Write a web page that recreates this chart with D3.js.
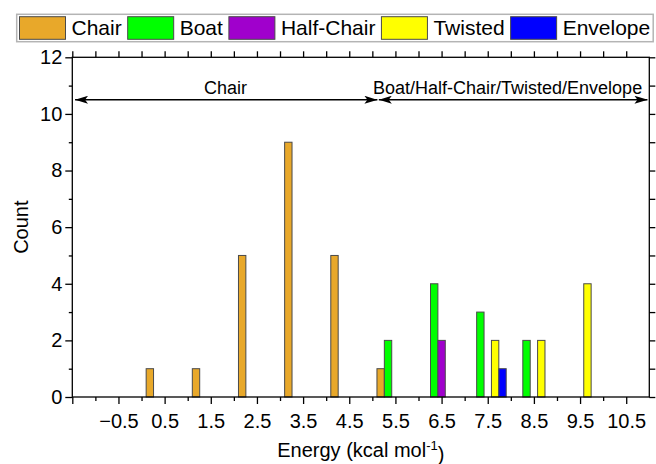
<!DOCTYPE html>
<html>
<head>
<meta charset="utf-8">
<script src="https://cdn.jsdelivr.net/npm/d3@7"></script>
<style>
  html, body { margin: 0; padding: 0; background: #fff; }
  svg { display: block; font-family: "Liberation Sans", Arial, sans-serif; }
</style>
</head>
<body>
<svg id="chart" width="656" height="464"></svg>
<script>
// Energy bin centres (kcal/mol) and counts per conformer class
const bins       = [0.5, 1.5, 2.5, 3.5, 4.5, 5.5, 6.5, 7.5, 8.5, 9.5];
const seriesNames = ["Chair", "Boat", "Half-Chair", "Twisted", "Envelope"];
const chair      = [1, 1, 5, 9, 5, 1, 0, 0, 0, 0];
const boat       = [0, 0, 0, 0, 0, 2, 4, 3, 2, 0];
const halfChair  = [0, 0, 0, 0, 0, 0, 2, 0, 0, 0];
const twisted    = [0, 0, 0, 0, 0, 0, 0, 2, 2, 4];
const envelope   = [0, 0, 0, 0, 0, 0, 0, 1, 0, 0];
const seriesColors = ["#E8A82A", "#00FF00", "#A000CC", "#FFFF00", "#0000FF"];

// Axis ticks
const xMajorTicks = [-1.5, -0.5, 0.5, 1.5, 2.5, 3.5, 4.5, 5.5, 6.5, 7.5, 8.5, 9.5, 10.5];
const xTickLabels = ["", "\u22120.5", "0.5", "1.5", "2.5", "3.5", "4.5", "5.5", "6.5", "7.5", "8.5", "9.5", "10.5"];
const xMinorTicks = [-1, 0, 1, 2, 3, 4, 5, 6, 7, 8, 9, 10];
const yMajorTicks = [0, 2, 4, 6, 8, 10, 12];
const yMinorTicks = [1, 3, 5, 7, 9, 11];

// Region annotations (double-headed arrows at Count = 10.5)
const regionNames  = ["Chair", "Boat/Half-Chair/Twisted/Envelope"];
const regionFrom   = [-1.44, 5.14];
const regionTo     = [5.11, 10.96];
const regionLabelX = [1.82, 7.93];
const regionLevel  = 10.5;

const allSeries = [chair, boat, halfChair, twisted, envelope];

const svg = d3.select("#chart");
const m = { left: 72.3, right: 649.3, top: 57.3, bottom: 397 };

const x = d3.scaleLinear().domain([-1.5, 11]).range([m.left, m.right]);
const y = d3.scaleLinear().domain([0, 12]).range([m.bottom, m.top]);

const barW = 0.16; // bar width in x units; five bars per bin
const g = svg.append("g");

// Bars
allSeries.forEach((vals, si) => {
  const pts = bins.map((b, i) => ({ b, v: vals[i] })).filter(d => d.v > 0);
  g.selectAll(null).data(pts).enter().append("rect")
    .attr("x", d => x(d.b + (si - 2) * barW - barW / 2))
    .attr("width", d => x(d.b + barW / 2) - x(d.b - barW / 2))
    .attr("y", d => y(d.v))
    .attr("height", d => y(0) - y(d.v))
    .attr("fill", seriesColors[si])
    .attr("stroke", "#4a4a4a")
    .attr("stroke-width", 1);
});

// Axes
function styleAxis(sel) {
  sel.select(".domain").remove();
  sel.selectAll("line").attr("stroke", "#000").attr("stroke-width", 1.3);
  sel.selectAll("text").attr("fill", "#000").style("font-size", "20px");
}

const bottomMajor = svg.append("g").attr("transform", `translate(0,${m.bottom})`)
  .call(d3.axisBottom(x).tickValues(xMajorTicks).tickSize(7).tickPadding(5)
    .tickFormat((d, i) => xTickLabels[i]));
styleAxis(bottomMajor);
bottomMajor.selectAll("text").attr("dy", "0.95em");

const bottomMinor = svg.append("g").attr("transform", `translate(0,${m.bottom})`)
  .call(d3.axisBottom(x).tickValues(xMinorTicks).tickSize(4).tickFormat(""));
styleAxis(bottomMinor);

const topAxis = svg.append("g").attr("transform", `translate(0,${m.top})`)
  .call(d3.axisTop(x).tickValues(d3.merge([xMajorTicks, xMinorTicks])).tickSize(6).tickFormat(""));
styleAxis(topAxis);

const leftMajor = svg.append("g").attr("transform", `translate(${m.left},0)`)
  .call(d3.axisLeft(y).tickValues(yMajorTicks).tickSize(7).tickPadding(3).tickFormat(d3.format("d")));
styleAxis(leftMajor);

const leftMinor = svg.append("g").attr("transform", `translate(${m.left},0)`)
  .call(d3.axisLeft(y).tickValues(yMinorTicks).tickSize(3.5).tickFormat(""));
styleAxis(leftMinor);

const rightAxis = svg.append("g").attr("transform", `translate(${m.right},0)`)
  .call(d3.axisRight(y).tickValues(d3.merge([yMajorTicks, yMinorTicks])).tickSize(6).tickFormat(""));
styleAxis(rightAxis);

// Frame
svg.append("rect")
  .attr("x", m.left).attr("y", m.top)
  .attr("width", m.right - m.left).attr("height", m.bottom - m.top)
  .attr("fill", "none").attr("stroke", "#000").attr("stroke-width", 1.3);

// Axis titles
svg.append("text")
  .attr("transform", `translate(28,${(m.top + m.bottom) / 2}) rotate(-90)`)
  .attr("text-anchor", "middle")
  .style("font-size", "20px")
  .text("Count");

const xt = svg.append("text")
  .attr("x", (m.left + m.right) / 2).attr("y", 457)
  .attr("text-anchor", "middle")
  .style("font-size", "20px");
xt.append("tspan").text("Energy (kcal mol");
xt.append("tspan").attr("dy", "-0.55em").style("font-size", "13px").text("-1");
xt.append("tspan").attr("dy", "0.55em").text(")");

// Region arrows
const defs = svg.append("defs");
defs.append("marker")
  .attr("id", "head").attr("viewBox", "0 0 13 8")
  .attr("refX", 13).attr("refY", 4)
  .attr("markerWidth", 13).attr("markerHeight", 8)
  .attr("markerUnits", "userSpaceOnUse")
  .attr("orient", "auto-start-reverse")
  .append("path").attr("d", "M0,0 L13,4 L0,8 L3,4 Z").attr("fill", "#000");

regionNames.forEach((name, i) => {
  svg.append("line")
    .attr("x1", x(regionFrom[i])).attr("x2", x(regionTo[i]))
    .attr("y1", y(regionLevel)).attr("y2", y(regionLevel))
    .attr("stroke", "#000").attr("stroke-width", 1.5)
    .attr("marker-start", "url(#head)").attr("marker-end", "url(#head)");
  svg.append("text")
    .attr("x", x(regionLabelX[i])).attr("y", y(regionLevel) - 6)
    .attr("text-anchor", "middle")
    .style("font-size", "18px")
    .text(name);
});

// Legend
const legend = svg.append("g");
const legBox = legend.append("rect")
  .attr("fill", "#fff").attr("stroke", "#b4b4b4").attr("stroke-width", 1.5);
let cx = 19.5;
const swW = 46, swH = 22.6, swY = 16.7;
seriesNames.forEach((name, i) => {
  legend.append("rect")
    .attr("x", cx).attr("y", swY).attr("width", swW).attr("height", swH)
    .attr("fill", seriesColors[i]).attr("stroke", "#4a4a4a").attr("stroke-width", 1);
  cx += swW + 6;
  const t = legend.append("text")
    .attr("x", cx).attr("y", 34.5)
    .style("font-size", "21px")
    .text(name);
  cx += t.node().getComputedTextLength() + 6;
});
legBox.attr("x", 16.7).attr("y", 14.3).attr("width", cx - 16.7 - 3).attr("height", 27.4);
</script>
</body>
</html>
